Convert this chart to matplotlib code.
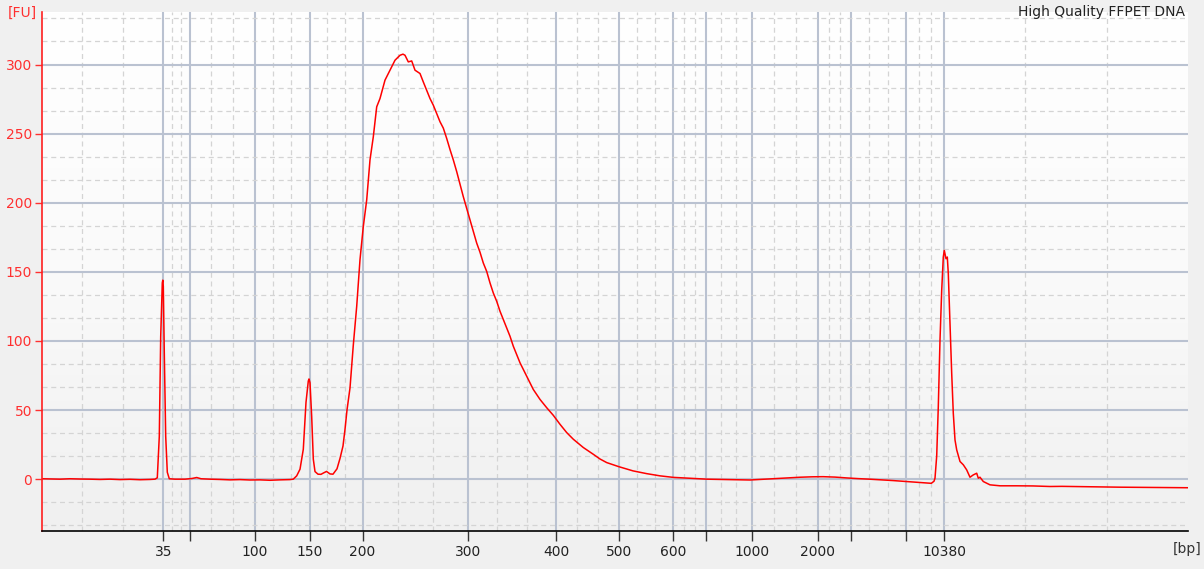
import numpy as np
import matplotlib
matplotlib.use("Agg")
import matplotlib.pyplot as plt
from matplotlib.colors import LinearSegmentedColormap

# ---- Data -----------------------------------------------------------
title = "High Quality FFPET DNA"

# ladder sizes and their migration position (sample index)
ladder_bp = [35, 50, 100, 150, 200, 300, 400, 500, 600, 700, 1000, 2000, 3000, 7000, 10380]
ladder_pos = [121.3, 147.7, 212.8, 267.5, 320.5, 425.7, 514.3, 577.0, 631.3, 663.5,
              709.5, 775.6, 809.0, 864.0, 902.0]
ladder_labels = ["35", "", "100", "150", "200", "300", "400", "500", "600", "",
                 "1000", "2000", "", "", "10380"]

# trace: sample index and fluorescence [FU]
sample = [0, 8, 18, 28, 38, 48, 58, 68, 78, 88, 98, 108, 113, 115.3, 117.3, 118.7,
          120.3, 120.8, 121.3, 122.3, 123.7, 125.3, 127.3, 133, 143, 150, 154.7, 159,
          168, 178, 188, 198, 208, 218, 228, 238, 248, 251.3, 254.7, 258, 261.3, 264,
          266.3, 267, 268, 269.7, 271.3, 273, 276, 279, 281.5, 284.5, 288, 291, 293,
          295, 298, 301, 303, 305, 308, 311.3, 314.7, 318, 321.3, 324.7, 328, 331.3,
          334.7, 338, 343, 348, 353, 358, 361, 363, 366.3, 369.7, 373, 378, 381.3,
          384.7, 388, 391.3, 394.7, 398, 401.3, 404.7, 408, 411.3, 414.7, 418, 421.3,
          424.7, 428, 431.3, 434.7, 438, 441.3, 444.7, 448, 451.3, 454.7, 458, 461.3,
          464.7, 468, 471.3, 474.7, 478, 481.3, 484.7, 488, 491.3, 494.7, 498, 504.7,
          511.3, 518, 524.7, 531.3, 541.3, 551.3, 558, 564.7, 577, 591, 604.7, 618,
          631.3, 651, 665, 678, 693, 708, 718, 731, 745, 758, 770, 781, 793, 804.6,
          816, 827.6, 839, 850.8, 862, 873.9, 883, 889.3, 892, 893, 894.7, 896.3, 898,
          899.7, 901.3, 902.3, 904, 905.3, 906.3, 908, 909.7, 911.3, 913, 914.7, 918,
          921.3, 924.7, 928, 931.3, 934.7, 936.3, 938, 941.3, 948, 958, 974.7, 991,
          1008, 1020, 1038, 1058.8, 1078, 1097, 1118, 1143.5, 1146]
fu = [0.3, 0.2, 0.0, 0.3, 0.1, 0.0, -0.2, 0.0, -0.3, -0.1, -0.4, -0.2, 0.0, 1.0,
      31, 103, 142, 144, 139.5, 91, 31, 5, 0.3, 0.0, 0.0, 0.5, 1.2, 0.3, 0.0, -0.2,
      -0.5, -0.3, -0.6, -0.5, -0.8, -0.5, -0.3, 0.0, 2.4, 7.2, 21.6, 55.6, 71, 72.5,
      69.8, 45, 14.5, 5.5, 3.6, 3.5, 4.5, 5.6, 3.8, 3.6, 5.5, 7.5, 15, 24, 36, 50,
      66, 97, 125, 158.8, 182.8, 202, 231, 247.7, 269.4, 275.4, 288.7, 295.9, 303.1,
      306.7, 307.5, 306.7, 301.9, 302.6, 295.9, 293.5, 287.4, 281.4, 275.4, 270.6,
      264.6, 258.6, 254, 246.5, 238.5, 231, 222.5, 213.5, 204.4, 196, 187.6, 179.2,
      170.8, 164.2, 156.4, 150.3, 142, 134.7, 128.7, 121.5, 115.5, 109.5, 103.4,
      96.2, 90.2, 84.2, 79.4, 74.5, 69.8, 64.9, 61.3, 57.7, 51.7, 46.2, 39.7, 33.7,
      28.9, 22.9, 18, 14.6, 12, 9, 6, 4.0, 2.4, 1.3, 0.5, 0.0, -0.2, -0.4, -0.6,
      -0.2, 0.4, 0.9, 1.4, 1.7, 1.8, 1.5, 0.9, 0.4, 0.0, -0.5, -1.0, -1.6, -2.2,
      -2.7, -3.0, -1.5, 0.7, 16.8, 52.5, 100.5, 136.6, 160.7, 165.5, 159.5, 160.7,
      148.7, 112.6, 76.5, 47.6, 28.4, 21.2, 12.8, 10.4, 6.7, 1.4, 3.1, 4.3, 0.7,
      1.4, -1.7, -4.1, -4.8, -4.8, -4.9, -5.3, -5.2, -5.4, -5.7, -5.8, -5.9, -6.0,
      -6.1, -6.2]

fu_ticks = [0, 50, 100, 150, 200, 250, 300]

# ---- Figure ---------------------------------------------------------
W, H = 1204, 569
fig = plt.figure(figsize=(W / 100, H / 100), dpi=100, facecolor="#f0f0f0")
ax = fig.add_axes([42 / W, 1 - 531 / H, (1188 - 42) / W, (531 - 12) / H])

xmin, xmax = 0, 1146
ymin, ymax = -37.5, 338
ax.set_xlim(xmin, xmax)
ax.set_ylim(ymin, ymax)

# background gradient
cmap = LinearSegmentedColormap.from_list("bg", ["#f0f0f0", "#fafafa", "#ffffff"])
grad = np.linspace(0, 1, 256).reshape(-1, 1)
ax.imshow(grad, aspect="auto", cmap=cmap, origin="lower",
          extent=[xmin, xmax, ymin, ymax], zorder=0)

major_col = "#bac2d1"
minor_col = "#d4d4d4"

# vertical grid: solid at ladder, dashed at thirds between
bounds = [xmin] + ladder_pos + [xmax]
for a, b in zip(bounds[:-1], bounds[1:]):
    for f in (1 / 3, 2 / 3):
        ax.axvline(a + (b - a) * f, color=minor_col, lw=0.9, ls=(0, (4, 3)), zorder=1)
for p in ladder_pos:
    ax.axvline(p, color=major_col, lw=1.5, zorder=1)

# horizontal grid
ystep = 50
for v in np.arange(-50, 351, ystep):
    for f in (1 / 3, 2 / 3):
        yy = v + ystep * f
        if ymin < yy < ymax:
            ax.axhline(yy, color=minor_col, lw=0.9, ls=(0, (4, 3)), zorder=1)
for v in fu_ticks:
    ax.axhline(v, color=major_col, lw=1.5, zorder=1)

# trace
ax.plot(sample, fu, color="#ff0000", lw=1.1, zorder=3)

# axes styling
for s in ("top", "right"):
    ax.spines[s].set_visible(False)
ax.spines["left"].set_color("#ff2020")
ax.spines["left"].set_linewidth(1.2)
ax.spines["bottom"].set_color("#000000")
ax.spines["bottom"].set_linewidth(1.2)
ax.spines["left"].set_zorder(4)
ax.spines["bottom"].set_zorder(4)

ax.set_yticks(fu_ticks)
ax.set_yticklabels([str(v) for v in fu_ticks])
ax.tick_params(axis="y", colors="#ff3030", labelcolor="#ff3030", length=5,
               width=1, labelsize=10, pad=2)
ax.set_xticks(ladder_pos)
ax.set_xticklabels(ladder_labels)
ax.tick_params(axis="x", colors="#333333", labelcolor="#222222", length=7,
               width=1, labelsize=10, pad=3)

fig.text(8 / W, 1 - 13 / H, "[FU]", color="#ff3030", fontsize=10, ha="left", va="center")
fig.text(1202 / W, 1 - 549 / H, "[bp]", color="#333333", fontsize=10, ha="right", va="center")
fig.text(1185 / W, 1 - 12 / H, title, color="#222222", fontsize=10, ha="right", va="center")

fig.savefig("out.png", dpi=100, facecolor=fig.get_facecolor())
